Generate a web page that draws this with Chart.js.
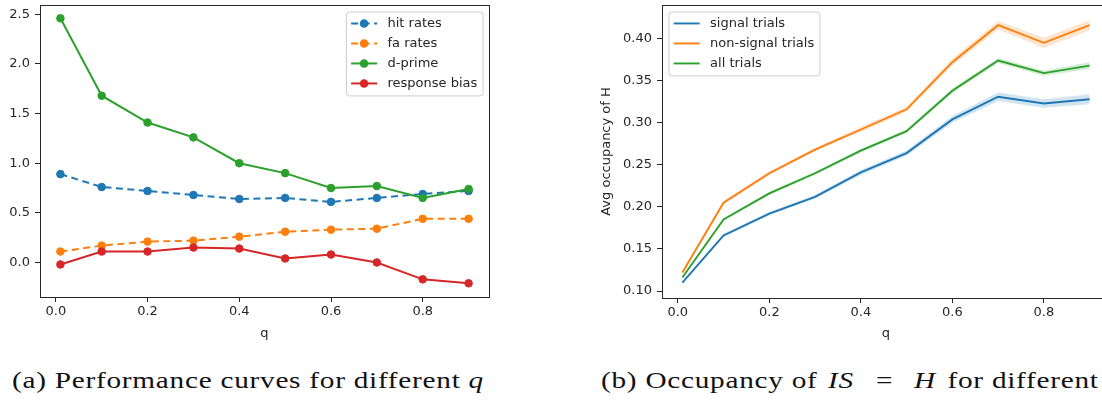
<!DOCTYPE html>
<html>
<head>
<meta charset="utf-8">
<script src="https://cdn.jsdelivr.net/npm/chart.js@4/dist/chart.umd.min.js"></script>
<style>
  html, body { margin: 0; padding: 0; background: #fff; overflow: hidden; }
  #stage { position: relative; width: 1102px; height: 400px; overflow: hidden; background: #fff; }
  canvas { position: absolute; top: 0; }
  #perf { left: 0; }
  #occ { left: 590px; }
  .cap { position: absolute; top: 368px; font-family: "Liberation Serif", "DejaVu Serif", serif; font-size: 24px;
         line-height: 24px; letter-spacing: 0.6px; white-space: nowrap; color: #111;
         transform: scaleX(1.22); transform-origin: 0 0; }
  .cap .rel { margin: 0 15px; }
  .cap .mv { margin: 0 3px 0 2px; }
  #capA { left: 12px; }
  #capB { left: 601px; }
</style>
</head>
<body>
<div id="stage">
  <canvas id="perf" width="500" height="345"></canvas>
  <canvas id="occ" width="540" height="345"></canvas>
  <div class="cap" id="capA">(a) Performance curves for different <i>q</i></div>
  <div class="cap" id="capB">(b) Occupancy of <i class="mv">IS</i><span class="rel">=</span><i class="mv">H</i> for different <i>q</i></div>
</div>
<script>
// ---- data ----
const qValues = [0.01, 0.1, 0.2, 0.3, 0.4, 0.5, 0.6, 0.7, 0.8, 0.9];

// panel (a): signal-detection measures
const hitRates     = [0.89, 0.76, 0.72, 0.68, 0.64, 0.65, 0.61, 0.65, 0.69, 0.72];
const faRates      = [0.11, 0.17, 0.21, 0.22, 0.26, 0.31, 0.33, 0.34, 0.44, 0.44];
const dPrime       = [2.46, 1.68, 1.41, 1.26, 1.00, 0.90, 0.75, 0.77, 0.65, 0.74];
const responseBias = [-0.02, 0.11, 0.11, 0.15, 0.14, 0.04, 0.08, 0.00, -0.17, -0.21];

// panel (b): mean occupancy of H with confidence bands
const signalTrials    = [0.110, 0.166, 0.192, 0.212, 0.241, 0.264, 0.304, 0.331, 0.323, 0.328];
const signalLow       = [0.109, 0.164, 0.190, 0.210, 0.238, 0.261, 0.300, 0.326, 0.318, 0.322];
const signalHigh      = [0.111, 0.168, 0.194, 0.214, 0.244, 0.267, 0.308, 0.336, 0.328, 0.334];
const nonSignalTrials = [0.122, 0.205, 0.240, 0.268, 0.292, 0.316, 0.372, 0.416, 0.395, 0.416];
const nonSignalLow    = [0.121, 0.203, 0.238, 0.266, 0.289, 0.313, 0.368, 0.411, 0.389, 0.410];
const nonSignalHigh   = [0.123, 0.207, 0.242, 0.270, 0.295, 0.319, 0.376, 0.421, 0.401, 0.422];
const allTrials       = [0.116, 0.185, 0.216, 0.240, 0.267, 0.290, 0.338, 0.374, 0.359, 0.368];
const allLow          = [0.115, 0.184, 0.214, 0.238, 0.265, 0.288, 0.335, 0.371, 0.356, 0.364];
const allHigh         = [0.117, 0.186, 0.218, 0.242, 0.269, 0.292, 0.341, 0.377, 0.362, 0.372];

// tick labels
const qTicks    = [0.0, 0.2, 0.4, 0.6, 0.8];
const perfTicks = [0.0, 0.5, 1.0, 1.5, 2.0, 2.5];
const occTicks  = [0.10, 0.15, 0.20, 0.25, 0.30, 0.35, 0.40];

// ---- styling helpers ----
const C = { blue: '#1f77b4', orange: '#ff7f0e', green: '#2ca02c', red: '#d62728' };
const FONT = '"DejaVu Sans", sans-serif';
const INK = '#262626';
const pts = ys => qValues.map((q, i) => ({ x: q, y: ys[i] }));

// Full box around the plotting area plus an in-axes legend.
const frameAndLegend = {
  id: 'frameAndLegend',
  afterDatasetsDraw(chart, args, opts) {
    const ctx = chart.ctx, a = chart.chartArea;
    ctx.save();
    ctx.strokeStyle = INK;
    ctx.lineWidth = 1;
    ctx.strokeRect(Math.round(a.left) + 0.5, Math.round(a.top) + 0.5,
                   Math.round(a.right - a.left), Math.round(a.bottom - a.top));

    const entries = chart.data.datasets.filter(d => d.label);
    const em = 13;
    ctx.font = em + 'px ' + FONT;
    const pad = 0.4 * em, handleLen = 2 * em, textPad = 0.8 * em, rowH = 13.5, gap = 0.5 * em;
    const textW = Math.max(...entries.map(e => ctx.measureText(e.label).width));
    const w = pad + handleLen + textPad + textW + pad;
    const h = 2 * pad + entries.length * rowH + (entries.length - 1) * gap;
    const x = opts.align === 'right' ? a.right - 0.5 * em - w : a.left + 0.5 * em;
    const y = a.top + 0.5 * em;

    ctx.beginPath();
    ctx.roundRect(x + 0.5, y + 0.5, w, h, 3);
    ctx.fillStyle = 'rgba(255,255,255,0.8)';
    ctx.fill();
    ctx.strokeStyle = '#cccccc';
    ctx.stroke();

    entries.forEach((e, i) => {
      const cy = y + pad + i * (rowH + gap) + rowH / 2;
      const x0 = x + pad, x1 = x0 + handleLen;
      ctx.beginPath();
      ctx.setLineDash(e.borderDash || []);
      ctx.strokeStyle = e.borderColor;
      ctx.lineWidth = e.borderWidth;
      ctx.moveTo(x0, cy);
      ctx.lineTo(x1, cy);
      ctx.stroke();
      ctx.setLineDash([]);
      if (e.pointRadius > 0) {
        ctx.beginPath();
        ctx.arc((x0 + x1) / 2, cy, e.pointRadius + 0.5, 0, Math.PI * 2);
        ctx.fillStyle = e.borderColor;
        ctx.fill();
      }
      ctx.fillStyle = INK;
      ctx.textBaseline = 'middle';
      ctx.textAlign = 'left';
      ctx.fillText(e.label, x1 + textPad, cy + 0.5);
    });
    ctx.restore();
  }
};

function fixedTicks(values) {
  return scale => { scale.ticks = values.map(v => ({ value: v })); };
}

function axis(opts) {
  return {
    type: 'linear',
    min: opts.min, max: opts.max,
    afterBuildTicks: fixedTicks(opts.ticks),
    grid: { display: true, drawOnChartArea: false, drawTicks: true, tickLength: 5, color: INK, lineWidth: 1 },
    border: { display: false },
    ticks: { color: INK, font: { family: FONT, size: 13 }, padding: opts.tickPad,
             maxRotation: 0, autoSkip: false, callback: opts.format },
    title: { display: !!opts.title, text: opts.title, color: INK,
             font: { family: FONT, size: 13 }, padding: opts.titlePad || 0 },
    afterFit: s => {
      if (opts.width !== undefined) { s.width = opts.width; s.paddingTop = 0; s.paddingBottom = 0; }
      if (opts.height !== undefined) { s.height = opts.height; s.paddingLeft = 0; s.paddingRight = 0; }
    }
  };
}

const commonPlugins = { legend: { display: false }, tooltip: { enabled: false } };

// ---- panel (a) ----
function markerSeries(label, ys, color, dashed, order) {
  return {
    label, data: pts(ys), borderColor: color, backgroundColor: color,
    pointBackgroundColor: color, pointBorderColor: color,
    borderWidth: 2, borderDash: dashed ? [7, 4.5] : [],
    pointRadius: 3.8, pointBorderWidth: 1, tension: 0, order
  };
}

new Chart(document.getElementById('perf'), {
  type: 'line',
  data: {
    datasets: [
      markerSeries('hit rates', hitRates, C.blue, true, 4),
      markerSeries('fa rates', faRates, C.orange, true, 3),
      markerSeries('d-prime', dPrime, C.green, false, 2),
      markerSeries('response bias', responseBias, C.red, false, 1)
    ]
  },
  options: {
    responsive: false, animation: false, devicePixelRatio: 1,
    layout: { padding: { left: 0, top: 3, right: 11, bottom: 0 } },
    scales: {
      x: axis({ min: -0.0345, max: 0.9445, ticks: qTicks, format: v => v.toFixed(1),
                tickPad: 2, title: 'q', titlePad: { top: 0, bottom: 4 }, height: 48 }),
      y: axis({ min: -0.348, max: 2.594, ticks: perfTicks, format: v => v.toFixed(1),
                tickPad: 5, width: 40 })
    },
    plugins: { ...commonPlugins, frameAndLegend: { align: 'right' } }
  },
  plugins: [frameAndLegend]
});

// ---- panel (b) ----
const rgba = (hex, a) => {
  const n = parseInt(hex.slice(1), 16);
  return `rgba(${n >> 16},${(n >> 8) & 255},${n & 255},${a})`;
};
function band(ys, color, fill) {
  return { data: pts(ys), borderWidth: 0, pointRadius: 0, tension: 0,
           backgroundColor: rgba(color, 0.2), fill };
}
function meanLine(label, ys, color) {
  return { label, data: pts(ys), borderColor: color, backgroundColor: color,
           borderWidth: 1.9, pointRadius: 0, tension: 0, fill: false };
}

new Chart(document.getElementById('occ'), {
  type: 'line',
  data: {
    datasets: [
      band(signalLow, C.blue, false), band(signalHigh, C.blue, '-1'),
      band(nonSignalLow, C.orange, false), band(nonSignalHigh, C.orange, '-1'),
      band(allLow, C.green, false), band(allHigh, C.green, '-1'),
      meanLine('signal trials', signalTrials, C.blue),
      meanLine('non-signal trials', nonSignalTrials, C.orange),
      meanLine('all trials', allTrials, C.green)
    ]
  },
  options: {
    responsive: false, animation: false, devicePixelRatio: 1,
    layout: { padding: { left: 0, top: 5, right: 20, bottom: 0 } },
    scales: {
      x: axis({ min: -0.0345, max: 0.9445, ticks: qTicks, format: v => v.toFixed(1),
                tickPad: 2, title: 'q', titlePad: { top: 0, bottom: 4 }, height: 47 }),
      y: axis({ min: 0.0917, max: 0.440, ticks: occTicks, format: v => v.toFixed(2),
                tickPad: 5, title: 'Avg occupancy of H', titlePad: { top: 9, bottom: 0 }, width: 72 })
    },
    plugins: { ...commonPlugins, frameAndLegend: { align: 'left' } }
  },
  plugins: [frameAndLegend]
});
</script>
</body>
</html>
